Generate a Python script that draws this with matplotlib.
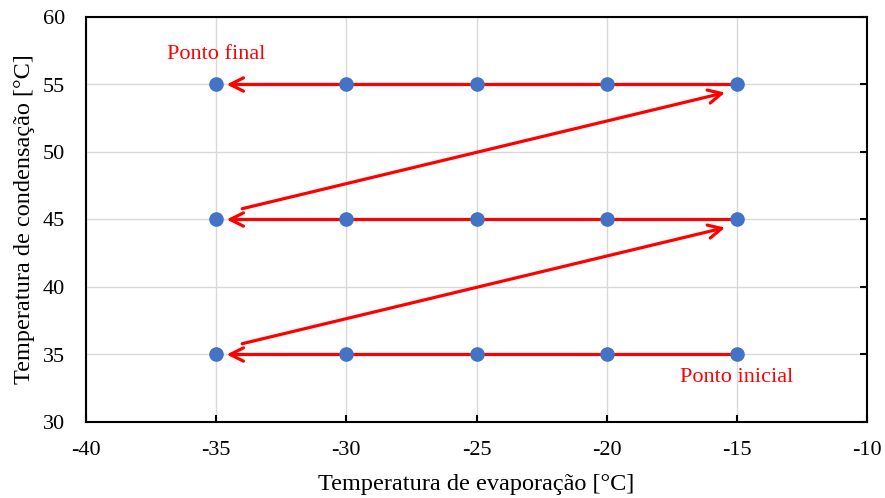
import numpy as np
import matplotlib.pyplot as plt

plt.rcParams['font.family'] = ['Liberation Serif', 'DejaVu Serif']
plt.rcParams['axes.unicode_minus'] = False

# grid of simulated operating points
t_evap = [-35, -30, -25, -20, -15]
t_cond = [35, 45, 55]

# sweep path: start/end of each arrow (evap, cond)
arrows = [
    ((-15, 35), (-34.6, 35)),
    ((-34.0, 35.8), (-15.45, 44.4)),
    ((-15, 45), (-34.6, 45)),
    ((-34.0, 45.8), (-15.45, 54.4)),
    ((-15, 55), (-34.6, 55)),
]

fig = plt.figure(figsize=(8.85, 4.98), dpi=100)
ax = fig.add_axes([86/885, 1-422/498, (867-86)/885, (422-17)/498])

ax.set_xlim(-40, -10)
ax.set_ylim(30, 60)
ax.set_xticks(np.arange(-40, -9, 5))
ax.set_yticks(np.arange(30, 61, 5))
ax.grid(True, color='#d9d9d9', linewidth=1.0)
ax.set_axisbelow(True)

for s in ax.spines.values():
    s.set_linewidth(1.5)
    s.set_color('black')
ax.tick_params(axis='x', direction='in', length=5, width=1.5, labelsize=16, pad=14)
ax.tick_params(axis='y', left=False, right=True, direction='in', length=5,
               width=1.5, labelsize=16, pad=15)

for (x0, y0), (x1, y1) in arrows:
    ax.annotate('', xy=(x1, y1), xytext=(x0, y0),
                arrowprops=dict(arrowstyle='->', color='red', lw=2.3,
                                mutation_scale=24, shrinkA=0, shrinkB=0),
                zorder=2)

ex, cy = np.meshgrid(t_evap, t_cond)
ax.plot(ex.ravel(), cy.ravel(), 'o', color='#4472C4', markersize=9.5, zorder=3)

ax.text(-35, 57.2, 'Ponto final', color='red', fontsize=16, ha='center', va='center')
ax.text(-15, 33.3, 'Ponto inicial', color='red', fontsize=16, ha='center', va='center')

ax.set_xlabel('Temperatura de evaporação [°C]', fontsize=17.5, labelpad=10)
ax.set_ylabel('Temperatura de condensação [°C]', fontsize=17.5, labelpad=6)

fig.savefig('out.png', dpi=100)
